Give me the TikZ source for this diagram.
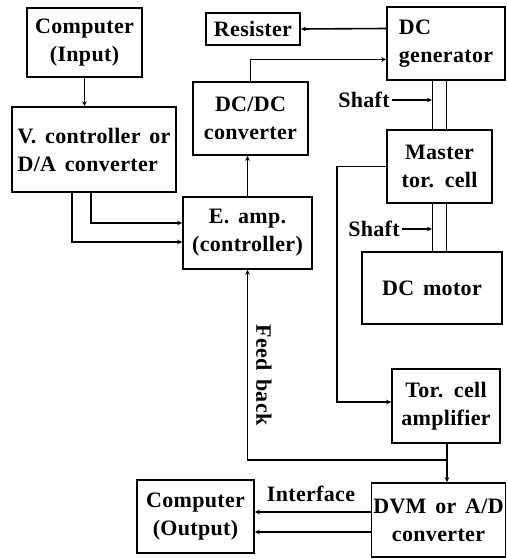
\documentclass[tikz,border=0pt]{standalone}
\usepackage{fontspec}
\newfontfamily\blkfont[LetterSpace=1.5,WordSpace=1.5]{Liberation Serif}
\usetikzlibrary{arrows.meta,positioning,calc}

\begin{document}
\begin{tikzpicture}[x=1pt,y=-1pt,line width=1.6pt,
  txt/.style={font=\blkfont\bfseries\fontsize{22}{28}\selectfont},
  blk/.style={txt,draw,align=center,inner sep=2pt},
  lbl/.style={txt,inner sep=1pt},
  >={Stealth[length=5pt,width=4.5pt]}]
  \useasboundingbox (0,0) rectangle (506,559);
  \node[blk,minimum width=115,minimum height=69] (cin) at (84.5,42.5) {Computer\\(Input)};
  \node[blk,align=left,minimum width=164,minimum height=85] (vctl) at (94,149.5) {V. controller or\\D/A converter};
  \node[blk,minimum width=129,minimum height=72] (eamp) at (247.5,233) {E. amp.\\(controller)};
  \node[blk,minimum width=115,minimum height=73] (dcdc) at (250.5,118.5) {DC/DC\\converter};
  \node[blk,minimum width=94,minimum height=32] (res) at (253,29) {Resister};
  \node[blk,align=left,minimum width=118,minimum height=73] (dcgen) at (446,43.5) {DC\\generator};
  \node[blk,minimum width=105,minimum height=73] (master) at (439.5,166.5) {Master\\tor. cell};
  \node[blk,minimum width=140,minimum height=72] (motor) at (432,288) {DC motor};
  \node[blk,minimum width=108,minimum height=74] (torcell) at (446,406) {Tor. cell\\amplifier};
  \node[blk,minimum width=133,minimum height=74] (dvm) at (438.5,520) {DVM or A/D\\converter};
  \node[blk,minimum width=117,minimum height=73] (cout) at (195.5,516.5) {Computer\\(Output)};

  \node[lbl] (shaftA) at (364,100) {Shaft};
  \node[lbl] (shaftB) at (374,229) {Shaft};
  \node[lbl,rotate=-90] (fbk) at (264,375) {Feed back};
  \node[lbl] (intf) at (311,494) {Interface};

  \coordinate (mt) at (337,0);
  \coordinate (fb) at (447,460);

  \draw[->] (cin.south) -- (cin.south |- vctl.north);
  \draw[->] ([xshift=-3pt]vctl.south) |- ([yshift=10pt]eamp.west);
  \draw[->] ([xshift=-22pt]vctl.south) |- ([yshift=-9pt]eamp.west);
  \draw[->] (eamp.north) -- (eamp.north |- dcdc.south);
  \draw[->] (dcdc.north) |- ([yshift=-16pt]dcgen.west);
  \draw[->] ([yshift=15pt]dcgen.west) -- (res.east);
  \foreach \s in {-7,7}{
    \draw ([xshift=\s pt]master.north) -- ([xshift=\s pt]master.north |- dcgen.south);
    \draw ([xshift=\s pt]master.south) -- ([xshift=\s pt]master.south |- motor.north);
  }
  \draw[->] (shaftA.east) -- (shaftA.east -| {432,0});
  \draw[->] (shaftB.east) -- (shaftB.east -| {432,0});
  \draw[->] (master.west) -- (master.west -| mt) |- ([yshift=4pt]torcell.west);
  \draw[->] (torcell.south -| fb) -- (fb |- dvm.north);
  \draw[->] (fb) -| (eamp.south);
  \draw[->] ([yshift=8pt]dvm.west) -- ([yshift=8pt]dvm.west -| cout.east);
  \draw[->] ([yshift=-12pt]dvm.west) -- ([yshift=-12pt]dvm.west -| cout.east);
\end{tikzpicture}
\end{document}
